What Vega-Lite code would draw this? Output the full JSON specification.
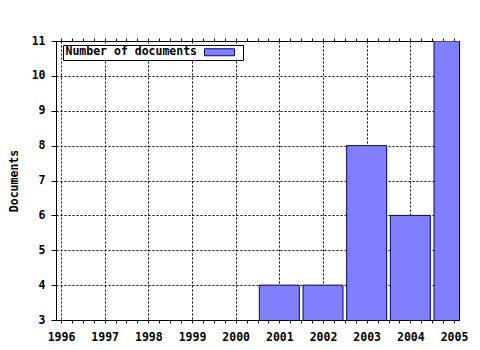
{
  "$schema": "https://vega.github.io/schema/vega-lite/v6.json",
  "width": 403,
  "height": 279,
  "autosize": {"type": "none"},
  "padding": {"left": 56, "top": 41, "right": 21, "bottom": 30},
  "background": "white",
  "config": {
    "view": {"stroke": "black", "strokeWidth": 1},
    "font": "DejaVu Sans Mono",
    "axis": {
      "labelFont": "DejaVu Sans Mono",
      "labelFontWeight": "bold",
      "labelFontSize": 11.5,
      "labelColor": "black",
      "titleFont": "DejaVu Sans Mono",
      "titleFontWeight": "bold",
      "titleFontSize": 11.5,
      "titleColor": "black",
      "domainColor": "black",
      "tickColor": "black",
      "gridColor": "black",
      "gridDash": [2, 2]
    }
  },
  "data": {
    "values": [
      {"year": 2001, "documents": 4},
      {"year": 2002, "documents": 4},
      {"year": 2003, "documents": 8},
      {"year": 2004, "documents": 6},
      {"year": 2005, "documents": 11}
    ]
  },
  "encoding": {
    "y": {
      "field": "documents",
      "type": "quantitative",
      "scale": {"domain": [3, 11], "nice": false, "zero": false},
      "axis": {
        "values": [3, 4, 5, 6, 7, 8, 9, 10, 11],
        "labelOverlap": false,
        "labelFlush": false,
        "tickSize": 5,
        "labelPadding": 6,
        "grid": true,
        "title": "Documents",
        "titleAngle": -90,
        "titleX": -39,
        "titleBaseline": "alphabetic"
      }
    }
  },
  "layer": [
    {
      "mark": {"type": "bar", "size": 40, "clip": true, "stroke": "#000080", "strokeWidth": 1},
      "encoding": {
        "x": {
          "field": "year",
          "type": "quantitative",
          "scale": {"domain": [1996, 2005], "nice": false, "zero": false},
          "axis": {
            "orient": "bottom",
            "values": [1996, 1996.25, 1996.5, 1996.75, 1997, 1997.25, 1997.5, 1997.75, 1998, 1998.25, 1998.5, 1998.75, 1999, 1999.25, 1999.5, 1999.75, 2000, 2000.25, 2000.5, 2000.75, 2001, 2001.25, 2001.5, 2001.75, 2002, 2002.25, 2002.5, 2002.75, 2003, 2003.25, 2003.5, 2003.75, 2004, 2004.25, 2004.5, 2004.75, 2005],
            "labelExpr": "datum.value % 1 === 0 ? '' + datum.value : ''",
            "labelOverlap": false,
            "labelFlush": false,
            "tickSize": 3,
            "labelPadding": 8,
            "grid": true,
            "gridOpacity": {"condition": {"test": "datum.value % 1 === 0", "value": 1}, "value": 0},
            "title": null
          }
        },
        "color": {
          "datum": "Number of documents",
          "type": "nominal",
          "scale": {"range": ["#8080ff"]},
          "legend": {
            "orient": "none",
            "legendX": 7,
            "legendY": 4,
            "title": null,
            "labelFont": "DejaVu Sans Mono",
            "labelFontWeight": "bold",
            "labelFontSize": 11.5,
            "labelColor": "black",
            "symbolOffset": 149.25,
            "labelOffset": -159.75,
            "symbolType": "M-4,-0.93H4V0.93H-4ZM5.17,0",
            "symbolSize": 56.25,
            "symbolStrokeColor": "#000080",
            "symbolStrokeWidth": 1,
            "symbolFillColor": "#8080ff",
            "symbolOpacity": 1,
            "strokeColor": "black",
            "fillColor": "white",
            "padding": 1.5
          }
        }
      }
    },
    {
      "mark": {"type": "point", "opacity": 0},
      "encoding": {
        "x": {
          "field": "year",
          "type": "quantitative",
          "axis": {
            "orient": "top",
            "values": [1996, 1996.25, 1996.5, 1996.75, 1997, 1997.25, 1997.5, 1997.75, 1998, 1998.25, 1998.5, 1998.75, 1999, 1999.25, 1999.5, 1999.75, 2000, 2000.25, 2000.5, 2000.75, 2001, 2001.25, 2001.5, 2001.75, 2002, 2002.25, 2002.5, 2002.75, 2003, 2003.25, 2003.5, 2003.75, 2004, 2004.25, 2004.5, 2004.75, 2005],
            "labels": false,
            "tickSize": 3,
            "grid": false,
            "title": null
          }
        }
      }
    }
  ],
  "resolve": {"axis": {"x": "independent"}}
}
